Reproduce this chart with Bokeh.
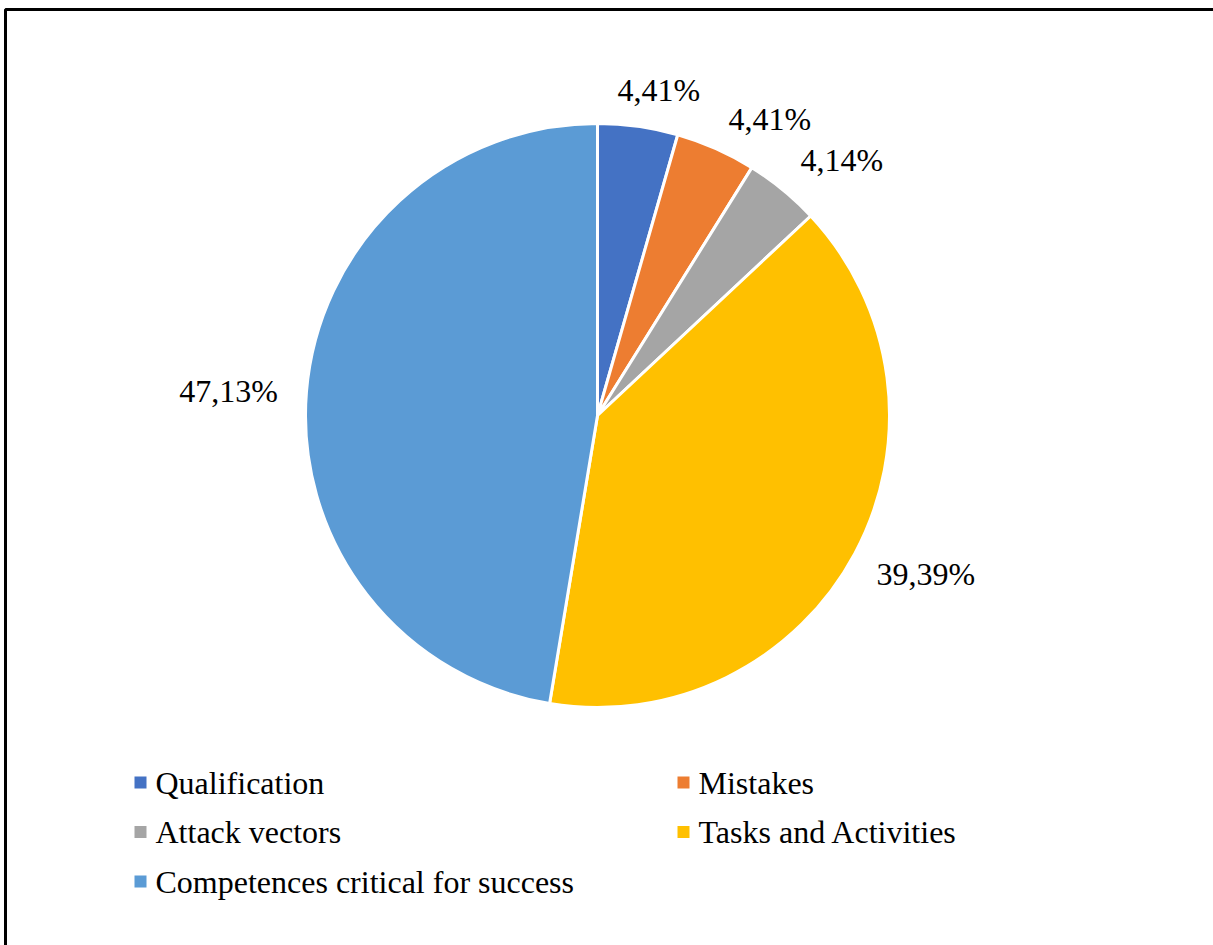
import math
from bokeh.plotting import figure
from bokeh.models import Range1d, ColumnDataSource
from bokeh.core.properties import value
from bokeh.embed import file_html
from bokeh.resources import INLINE

categories = ["Qualification", "Mistakes", "Attack vectors", "Tasks and Activities",
              "Competences critical for success"]
shares = [4.41, 4.41, 4.14, 39.39, 47.13]
colors = ["#4472C4", "#ED7D31", "#A5A5A5", "#FFC000", "#5B9BD5"]

# layout: small angular nudges (degrees) of the data labels, as Excel places them
label_angle_nudge = [2.7, 6.2, 4.3, -2.4, -0.9]

W, H = 1213, 945
CX, CY, R = 597, H - 415, 292
FONT = "Liberation Serif"
FS = "32px"

p = figure(width=W, height=H, output_backend="svg", toolbar_location=None,
           x_range=Range1d(0, W), y_range=Range1d(0, H), min_border=0)
p.axis.visible = False
p.grid.visible = False
p.outline_line_color = None
p.background_fill_color = "white"
p.border_fill_color = "white"

total = sum(shares)
cum = [0.0]
for s in shares:
    cum.append(cum[-1] + s / total)
starts = [math.pi / 2 - 2 * math.pi * c for c in cum[:-1]]
ends = [math.pi / 2 - 2 * math.pi * c for c in cum[1:]]

src = ColumnDataSource(dict(start=starts, end=ends, color=colors, cat=categories))
p.wedge(x=CX, y=CY, radius=R, start_angle="start", end_angle="end", direction="clock",
        fill_color="color", line_color="white", line_width=3, source=src)

# data labels
lx, ly, lt = [], [], []
for i, s in enumerate(shares):
    mid = (cum[i] + cum[i + 1]) / 2 * 2 * math.pi  # clockwise from top
    dist = R + 33 + 45 * abs(math.sin(mid))
    a = mid + math.radians(label_angle_nudge[i])
    lx.append(CX + dist * math.sin(a))
    ly.append(CY + dist * math.cos(a))
    lt.append(f"{s:.2f}".replace(".", ",") + "%")
p.text(x=lx, y=ly, text=lt, text_font=value(FONT), text_font_size=FS,
       text_align="center", text_baseline="middle", text_color="black")

# legend (two columns, row-major)
col_x = [140, 683]
row_y0, row_dy = H - 782, 49.5
mx, my, tx, ty = [], [], [], []
for i, c in enumerate(categories):
    r, k = divmod(i, 2)
    mx.append(col_x[k])
    my.append(row_y0 - r * row_dy)
    tx.append(col_x[k] + 15)
    ty.append(row_y0 - r * row_dy)
p.scatter(x=mx, y=my, marker="square", size=12, fill_color=colors, line_color=None)
p.text(x=tx, y=ty, text=categories, text_font=value(FONT), text_font_size=FS,
       text_align="left", text_baseline="middle", text_color="black")

# chart frame (left and top edges visible)
p.line(x=[5, 5, W + 20], y=[-20, H - 9, H - 9], line_color="black", line_width=3)

open("out.html", "w").write(file_html(p, INLINE))
